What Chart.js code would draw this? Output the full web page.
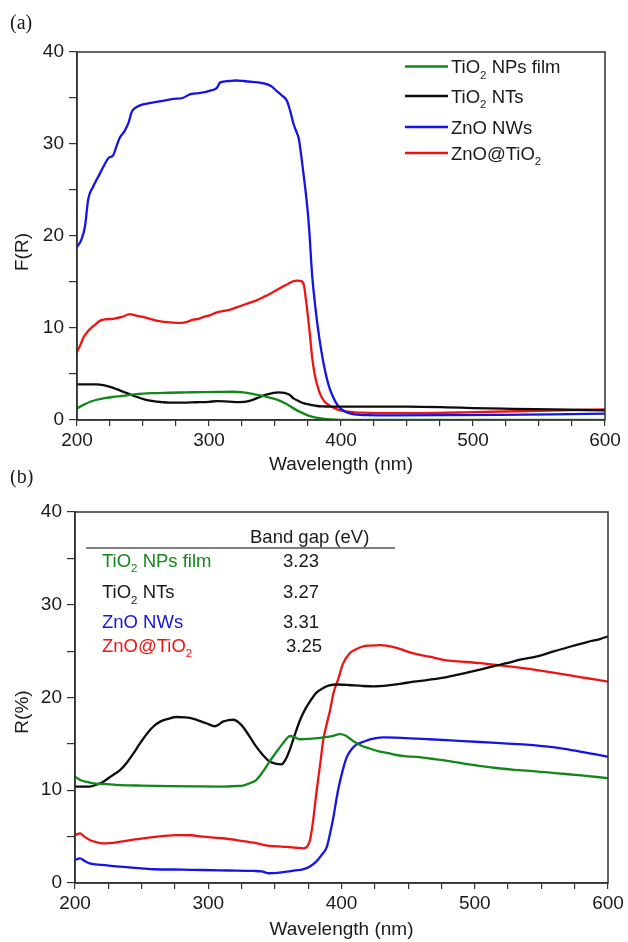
<!DOCTYPE html>
<html><head><meta charset="utf-8">
<script src="https://cdn.jsdelivr.net/npm/chart.js@4.4.1/dist/chart.umd.min.js"></script>
<style>
html,body{margin:0;padding:0;background:#fff;}
#wrap{position:relative;width:628px;height:942px;overflow:hidden;background:#fff;}
#ca{position:absolute;left:0;top:0;}
#cb{position:absolute;left:0;top:470px;}
</style></head><body>
<div id="wrap">
<canvas id="ca" width="628" height="480"></canvas>
<canvas id="cb" width="628" height="472"></canvas>
</div>
<script>
// ---------- data ----------
const seriesNames = ['TiO₂ NPs film', 'TiO₂ NTs', 'ZnO NWs', 'ZnO@TiO₂'];
const bandGaps = ['3.23', '3.27', '3.31', '3.25'];
const xTickLabels = [200, 300, 400, 500, 600];
const yTickLabels = [0, 10, 20, 30, 40];

// panel (a): F(R)
const aNPsWl = [200,205,210,215,220,227,233,245,258,270,283,296,308,318,326,336,344,351,358,366,371,376,381,386,392,400,450,500,600];
const aNPsF  = [1.27,1.65,1.98,2.2,2.35,2.5,2.6,2.82,2.92,2.96,3.0,3.04,3.06,3.07,3.0,2.75,2.5,2.25,1.8,1.1,0.75,0.45,0.25,0.15,0.06,0.02,0.02,0.02,0.02];

const aNTsWl = [200,208,215,220,225,230,235,240,245,251,258,264,270,280,290,300,306,315,323,330,336,342,349,353,357,361,364,368,372,377,382,387,392,400,420,450,480,500,530,560,600];
const aNTsF  = [3.87,3.88,3.87,3.78,3.6,3.35,3.07,2.8,2.53,2.25,2.05,1.95,1.88,1.88,1.93,1.98,2.05,2.0,1.95,2.05,2.35,2.7,2.96,3.0,2.96,2.75,2.35,2.05,1.8,1.65,1.52,1.48,1.45,1.45,1.45,1.45,1.38,1.3,1.22,1.15,1.05];

const aNWsWl = [200,203,206,208.5,212,217,221,224,227.5,230,232.5,236,239,241.5,245,250,257,265,273,280,285.5,290,296,301,306,308.5,315,320,326,333,341,347,351,355,359,361.5,364,366,368,370,372,374.5,376,378,380,382.5,385,388,391,394,397,400,404,410,420,440,480,520,560,600];
const aNWsF  = [18.8,19.5,21.0,24.0,25.3,26.7,27.8,28.5,28.8,29.8,30.7,31.4,32.3,33.5,34.0,34.3,34.5,34.7,34.9,35.0,35.4,35.5,35.6,35.8,36.1,36.7,36.85,36.9,36.85,36.75,36.6,36.3,35.8,35.3,34.7,33.6,32.2,31.4,30.6,28.6,26.3,23.1,20.5,16.0,13.0,10.0,7.6,5.3,3.6,2.5,1.7,1.2,0.85,0.62,0.52,0.5,0.52,0.56,0.62,0.7];

const aCoreWl = [200,203,205,208,210,214,217.5,222,227.5,234,240,245,250,255,260,265,270,275,279,284,288,292,296,301,306,311,316,321,326,331,336,341,346,351,356,360,364,367,370,372,373.5,375,376.5,378,380,382,384,387,390,394,398,405,415,430,460,500,550,600];
const aCoreF  = [7.4,8.3,9.0,9.6,9.9,10.4,10.8,10.95,11.0,11.2,11.5,11.35,11.2,11.0,10.8,10.7,10.6,10.55,10.55,10.7,10.9,11.0,11.2,11.4,11.7,11.85,12.0,12.25,12.5,12.75,13.0,13.35,13.7,14.1,14.5,14.8,15.1,15.15,15.1,14.6,13.0,11.2,9.2,7.0,5.0,3.8,2.9,2.1,1.7,1.35,1.1,0.9,0.8,0.75,0.75,0.85,1.0,1.15];

// panel (b): R(%)
const bNPsWl = [200,204,209,214,224,234,250,271,290,309,320,326,331,336,341,346,351,356,359,361.5,365,369,376,384,392,399,403,406,410,415,421,428,435,441,449,456,470,491,505,516,530,541,560,580,600];
const bNPsR  = [11.46,11.1,10.9,10.75,10.65,10.56,10.5,10.45,10.42,10.4,10.45,10.5,10.75,11.1,12.0,13.1,14.1,15.05,15.6,15.85,15.7,15.5,15.55,15.65,15.8,16.05,15.9,15.6,15.2,14.8,14.5,14.2,14.0,13.8,13.65,13.6,13.35,12.9,12.6,12.4,12.2,12.1,11.85,11.6,11.3];

const bNTsWl = [200,211,216,221,227,234,239,244,249,254,259,264,270,276,283,289,294,299,305,308,311,315,319,323,326,331,336,341,346,351,355,358,361,365,369,373,376,381,386,391,396,405,415,424,435,445,454,465,479,490,504,515,524,535,546,560,572,585,594,600];
const bNTsR  = [10.4,10.4,10.6,10.9,11.5,12.2,13.0,14.0,15.1,16.1,16.9,17.4,17.7,17.9,17.85,17.7,17.45,17.2,16.9,17.1,17.4,17.55,17.6,17.3,16.85,15.8,14.7,13.8,13.1,12.85,12.8,13.3,14.3,16.0,17.6,18.8,19.5,20.5,21.0,21.3,21.4,21.35,21.25,21.2,21.3,21.5,21.7,21.9,22.2,22.55,23.0,23.4,23.7,24.1,24.4,25.0,25.5,26.0,26.3,26.6];

const bNWsWl = [200,203.8,207,211,220,234,250,259,280,296,315,334,340,346,352,359,365,371,376,381,385,389,391.5,394,396.5,398,401,404,408,412,416,422,431,445,466,485,504,522,541,555,566,580,590,600];
const bNWsR  = [2.48,2.66,2.4,2.12,1.95,1.76,1.58,1.48,1.45,1.4,1.35,1.3,1.25,1.05,1.1,1.22,1.35,1.48,1.75,2.3,3.0,3.9,5.4,7.15,9.3,10.4,12.2,13.6,14.5,15.0,15.2,15.5,15.7,15.65,15.5,15.35,15.2,15.05,14.9,14.7,14.5,14.15,13.9,13.6];

const bCoreWl = [200,203.8,207,211,216,221,226,234,243,251,265,276,287,296,309,321,334,346,352,359,366,371.4,374,376.4,378.5,381.4,384,386.3,389,391.4,394,397.6,401,406,411,416,422,429,440,454,466,479,492,504,517,529,542,554,567,579,590,600];
const bCoreR  = [5.17,5.35,5.0,4.63,4.4,4.28,4.3,4.45,4.65,4.82,5.05,5.17,5.15,5.0,4.85,4.63,4.35,4.0,3.95,3.9,3.8,3.74,3.9,4.63,6.5,10.0,12.8,15.4,17.2,18.6,20.5,22.0,23.6,24.75,25.2,25.5,25.6,25.65,25.4,24.75,24.4,24.0,23.85,23.7,23.5,23.3,23.05,22.8,22.5,22.2,21.95,21.7];

// ---------- style ----------
const COLORS = ['#13881a', '#0d0d0d', '#1414e6', '#ee1414'];
const FONT = "'Liberation Sans', Arial, sans-serif";
const TXT = '#1a1a1a';

function pts(xs, ys) { return xs.map((x, i) => ({x: x, y: ys[i]})); }
function mkDatasets(list) {
  return list.map((d, i) => ({
    label: seriesNames[i],
    data: pts(d[0], d[1]),
    borderColor: COLORS[i],
    borderWidth: 2.3,
    pointRadius: 0,
    fill: false,
    cubicInterpolationMode: 'monotone'
  }));
}

// rich text with subscripts (₂)
function drawRich(ctx, str, x, y, size, color, align) {
  const segs = [];
  for (const ch of str) {
    const sub = ch === '₂';
    const c = sub ? '2' : ch;
    if (segs.length && segs[segs.length - 1].sub === sub) segs[segs.length - 1].t += c;
    else segs.push({t: c, sub: sub});
  }
  let w = 0;
  segs.forEach(s => {
    ctx.font = (s.sub ? size * 0.62 : size) + 'px ' + FONT;
    s.w = ctx.measureText(s.t).width; w += s.w;
  });
  let cx = align === 'center' ? x - w / 2 : (align === 'right' ? x - w : x);
  ctx.fillStyle = color;
  ctx.textBaseline = 'alphabetic';
  ctx.textAlign = 'left';
  segs.forEach(s => {
    ctx.font = (s.sub ? size * 0.62 : size) + 'px ' + FONT;
    ctx.fillText(s.t, cx, s.sub ? y + size * 0.32 : y);
    cx += s.w;
  });
}

function drawYTitle(ctx, text, x, y) {
  ctx.save();
  ctx.translate(x, y);
  ctx.rotate(-Math.PI / 2);
  ctx.font = '19px ' + FONT;
  ctx.fillStyle = TXT;
  ctx.textAlign = 'center';
  ctx.textBaseline = 'middle';
  ctx.fillText(text, 0, 0);
  ctx.restore();
}

const framePlugin = {
  id: 'frame',
  afterDraw(chart) {
    const {ctx, chartArea: a} = chart;
    ctx.save();
    ctx.strokeStyle = '#333';
    ctx.lineWidth = 1.5;
    ctx.strokeRect(a.left, a.top, a.right - a.left, a.bottom - a.top);
    ctx.restore();
  }
};

function scales(yWidth, xHeight, titlePadBottom) {
  return {
    x: {
      type: 'linear', min: 200, max: 600,
      afterFit(s) { s.height = xHeight; },
      border: {display: true, color: '#333', width: 1.5},
      grid: {drawOnChartArea: false, drawTicks: true, tickLength: 6, color: '#333', lineWidth: 1.2},
      ticks: {
        stepSize: 25, autoSkip: false, maxRotation: 0, padding: 3,
        color: TXT, font: {family: FONT, size: 19},
        callback: v => xTickLabels.includes(v) ? String(v) : ''
      },
      title: {display: true, text: 'Wavelength (nm)', color: TXT,
        font: {family: FONT, size: 19}, padding: {top: 0, bottom: titlePadBottom}}
    },
    y: {
      type: 'linear', min: 0, max: 40,
      afterFit(s) { s.width = yWidth; },
      border: {display: true, color: '#333', width: 1.5},
      grid: {drawOnChartArea: false, drawTicks: true, tickLength: 8, color: '#333', lineWidth: 1.2},
      ticks: {
        stepSize: 5, autoSkip: false, padding: 5,
        color: TXT, font: {family: FONT, size: 19},
        callback: v => yTickLabels.includes(v) ? String(v) : ''
      },
      title: {display: false}
    }
  };
}

const baseOpts = {
  responsive: false, animation: false, devicePixelRatio: 1,
  plugins: {legend: {display: false}, tooltip: {enabled: false}}
};

// ---------- panel (a) ----------
const legendA = {
  id: 'legendA',
  afterDraw(chart) {
    const ctx = chart.ctx;
    ctx.save();
    ctx.font = '20px "Liberation Serif", serif';
    ctx.fillStyle = TXT; ctx.textBaseline = 'middle'; ctx.textAlign = 'left';
    ctx.fillText('(a)', 10, 24);
    drawYTitle(ctx, 'F(R)', 23, 252);
    const rows = [66.5, 96, 127, 153];
    seriesNames.forEach((n, i) => {
      ctx.strokeStyle = COLORS[i]; ctx.lineWidth = 2.3;
      ctx.beginPath(); ctx.moveTo(405, rows[i]); ctx.lineTo(448, rows[i]); ctx.stroke();
      drawRich(ctx, n, 451, rows[i] + 6.5, 18.5, TXT, 'left');
    });
    ctx.restore();
  }
};

new Chart(document.getElementById('ca'), {
  type: 'line',
  data: {datasets: mkDatasets([[aNPsWl, aNPsF], [aNTsWl, aNTsF], [aNWsWl, aNWsF], [aCoreWl, aCoreF]])},
  options: Object.assign({}, baseOpts, {
    layout: {padding: {left: 0, right: 23, top: 52, bottom: 0}},
    scales: scales(77, 60, 4)
  }),
  plugins: [framePlugin, legendA]
});

// ---------- panel (b) ----------
const tableB = {
  id: 'tableB',
  afterDraw(chart) {
    const ctx = chart.ctx;
    const o = 470;
    ctx.save();
    ctx.font = '20px "Liberation Serif", serif';
    ctx.fillStyle = TXT; ctx.textBaseline = 'middle'; ctx.textAlign = 'left';
    ctx.fillText('(b)', 10, 478 - o);
    drawYTitle(ctx, 'R(%)', 23, 712 - o);
    drawRich(ctx, 'Band gap (eV)', 250, 543 - o, 18.5, TXT, 'left');
    ctx.strokeStyle = '#555'; ctx.lineWidth = 1.5;
    ctx.beginPath(); ctx.moveTo(86, 548 - o); ctx.lineTo(395, 548 - o); ctx.stroke();
    const rows = [560, 591.5, 621.5, 645];
    seriesNames.forEach((n, i) => {
      drawRich(ctx, n, 102, rows[i] + 6.5 - o, 18.5, i === 1 ? TXT : COLORS[i], 'left');
      drawRich(ctx, bandGaps[i], 283 + (i === 3 ? 3 : 0), rows[i] + 6.5 - o, 18.5, TXT, 'left');
    });
    ctx.restore();
  }
};

new Chart(document.getElementById('cb'), {
  type: 'line',
  data: {datasets: mkDatasets([[bNPsWl, bNPsR], [bNTsWl, bNTsR], [bNWsWl, bNWsR], [bCoreWl, bCoreR]])},
  options: Object.assign({}, baseOpts, {
    layout: {padding: {left: 0, right: 20, top: 42, bottom: 0}},
    scales: scales(75, 59, 1)
  }),
  plugins: [framePlugin, tableB]
});
</script>
</body></html>
